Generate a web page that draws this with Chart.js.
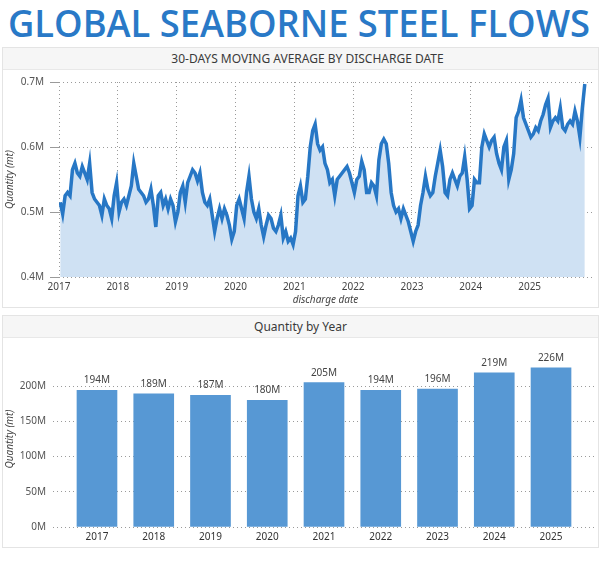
<!DOCTYPE html>
<html>
<head>
<meta charset="utf-8">
<title>Global Seaborne Steel Flows</title>
<script src="https://cdn.jsdelivr.net/npm/chart.js@4/dist/chart.umd.min.js"></script>
<style>
  body { margin: 0; background: #fff; width: 612px; height: 572px; overflow: hidden; font-family: "Noto Sans", sans-serif; }
  #title { position: absolute; left: 8px; top: 3px; margin: 0; white-space: nowrap; font: 600 38px/1 "Open Sans", sans-serif; color: #2979c7; transform-origin: 0 0; }
  .panel { position: absolute; left: 2px; width: 595px; border: 1px solid #e4e4e4; background: #fff; }
  .head { height: 21px; background: #f6f6f6; border-bottom: 1px solid #e8e8e8; text-align: center; font-size: 12px; line-height: 21px; color: #3a3a3a; }
  .box { position: relative; width: 595px; }
  #p1 { top: 47px; }
  #p1 .head { padding-left: 14px; width: 581px; }
  #p1 .box { height: 237px; }
  #p2 { top: 315px; }
  #p2 .box { height: 209px; }
</style>
</head>
<body>
<h1 id="title">GLOBAL SEABORNE STEEL FLOWS</h1>

<div class="panel" id="p1">
  <div class="head">30-DAYS MOVING AVERAGE BY DISCHARGE DATE</div>
  <div class="box"><canvas id="movingAvgChart"></canvas></div>
</div>

<div class="panel" id="p2">
  <div class="head">Quantity by Year</div>
  <div class="box"><canvas id="byYearChart"></canvas></div>
</div>

<script>
// años y valores (millones de toneladas)
const years = ['2017', '2018', '2019', '2020', '2021', '2022', '2023', '2024', '2025'];

// media móvil 30 días, dos valores por mes (M t)
const ma2017 = [0.515, 0.497, 0.525, 0.53, 0.525, 0.565, 0.575, 0.56, 0.555, 0.57, 0.56, 0.55,
                0.575, 0.53, 0.52, 0.515, 0.51, 0.495, 0.52, 0.51, 0.505, 0.49, 0.525, 0.545];
const ma2018 = [0.50, 0.515, 0.52, 0.51, 0.525, 0.54, 0.575, 0.555, 0.535, 0.53, 0.525, 0.515,
                0.52, 0.535, 0.51, 0.477, 0.525, 0.53, 0.51, 0.52, 0.505, 0.52, 0.51, 0.485];
const ma2019 = [0.50, 0.53, 0.54, 0.515, 0.545, 0.555, 0.565, 0.56, 0.548, 0.56, 0.53, 0.515,
                0.51, 0.52, 0.495, 0.47, 0.49, 0.505, 0.49, 0.505, 0.495, 0.48, 0.458, 0.47];
const ma2020 = [0.51, 0.52, 0.505, 0.49, 0.53, 0.555, 0.52, 0.50, 0.49, 0.505, 0.48, 0.462,
                0.48, 0.495, 0.49, 0.475, 0.47, 0.48, 0.495, 0.46, 0.47, 0.455, 0.46, 0.45];
const ma2021 = [0.47, 0.525, 0.54, 0.515, 0.52, 0.555, 0.60, 0.625, 0.635, 0.605, 0.595, 0.60,
                0.575, 0.565, 0.545, 0.55, 0.525, 0.55, 0.555, 0.56, 0.565, 0.57, 0.56, 0.545];
const ma2022 = [0.53, 0.55, 0.555, 0.578, 0.565, 0.53, 0.53, 0.545, 0.54, 0.525, 0.58, 0.605,
                0.612, 0.605, 0.575, 0.53, 0.51, 0.50, 0.505, 0.49, 0.505, 0.495, 0.485, 0.47];
const ma2023 = [0.455, 0.47, 0.48, 0.51, 0.53, 0.555, 0.535, 0.525, 0.53, 0.555, 0.575, 0.595,
                0.57, 0.53, 0.525, 0.55, 0.56, 0.55, 0.54, 0.555, 0.56, 0.585, 0.55, 0.505];
const ma2024 = [0.51, 0.55, 0.545, 0.545, 0.60, 0.62, 0.61, 0.60, 0.61, 0.615, 0.59, 0.575,
                0.565, 0.60, 0.61, 0.55, 0.565, 0.59, 0.645, 0.655, 0.672, 0.645, 0.635, 0.625];
const ma2025 = [0.615, 0.62, 0.63, 0.625, 0.64, 0.65, 0.665, 0.675, 0.63, 0.64, 0.645, 0.64,
                0.66, 0.63, 0.625, 0.635, 0.64, 0.635, 0.655, 0.64, 0.615, 0.66, 0.697];

const movingAvgTicks = [0.4, 0.5, 0.6, 0.7];

// totales anuales (M t)
const yearlyTotals = [194, 189, 187, 180, 205, 194, 196, 219, 226];
const yearlyTicks = [0, 50, 100, 150, 200];

const lineBlue = '#2777c5';
const areaBlue = '#cfe1f3';
const barBlue = '#5798d4';
const gridGrey = '#9a9a9a';

Chart.defaults.font.family = '"Noto Sans", sans-serif';
Chart.defaults.font.size = 10;
Chart.defaults.color = '#555';
Chart.defaults.animation = false;

// ajustar el título al ancho del original
const title = document.getElementById('title');
title.style.transform = 'scaleX(' + (582 / title.getBoundingClientRect().width) + ')';

// puntos de la media móvil en años decimales
const movingAvgPoints = [];
[ma2017, ma2018, ma2019, ma2020, ma2021, ma2022, ma2023, ma2024, ma2025].forEach((vals, k) => {
  vals.forEach((v, i) => {
    movingAvgPoints.push({ x: Number(years[k]) + (i + 0.5) / 24, y: v });
  });
});

// Gráfica de área - media móvil
new Chart(document.getElementById('movingAvgChart'), {
  type: 'line',
  data: {
    datasets: [{
      data: movingAvgPoints,
      borderColor: lineBlue,
      backgroundColor: areaBlue,
      borderWidth: 3.5,
      pointRadius: 0,
      fill: 'start',
      tension: 0,
    }],
  },
  options: {
    responsive: true,
    maintainAspectRatio: false,
    layout: { padding: { top: 11, right: 6, left: 0, bottom: 0 } },
    plugins: { legend: { display: false }, tooltip: { enabled: false } },
    scales: {
      x: {
        type: 'linear',
        min: 2017,
        max: 2026.06,
        afterBuildTicks: s => { s.ticks = years.map(y => ({ value: Number(y) })); },
        afterFit: s => { s.height = 30; },
        ticks: { padding: 4, color: '#444', callback: v => String(v) },
        grid: { color: gridGrey, drawTicks: false },
        border: { display: false, dash: [1, 3] },
        title: { display: true, text: 'discharge date', font: { style: 'italic', size: 10 }, color: '#444', padding: { top: 0, bottom: 1 } },
      },
      y: {
        min: 0.4,
        max: 0.7,
        afterBuildTicks: s => { s.ticks = movingAvgTicks.map(v => ({ value: v })); },
        afterFit: s => { s.width = 56; },
        ticks: { padding: 6, color: '#555', callback: v => v.toFixed(1) + 'M' },
        grid: { color: gridGrey, tickLength: 9 },
        border: { display: false, dash: [1, 3] },
        title: { display: true, text: 'Quantity (mt)', font: { style: 'italic', size: 10 }, color: '#444', padding: { top: 1, bottom: 0 } },
      },
    },
  },
});

// etiquetas de valor encima de cada barra
const barValueLabels = {
  id: 'barValueLabels',
  afterDatasetsDraw(chart) {
    const ctx = chart.ctx;
    ctx.save();
    ctx.font = '10px "Noto Sans", sans-serif';
    ctx.fillStyle = '#444';
    ctx.textAlign = 'center';
    ctx.textBaseline = 'middle';
    chart.getDatasetMeta(0).data.forEach((bar, i) => {
      ctx.fillText(yearlyTotals[i] + 'M', bar.x, bar.y - 10);
    });
    ctx.restore();
  }
};

// Gráfica de barras - cantidad por año
new Chart(document.getElementById('byYearChart'), {
  type: 'bar',
  data: {
    datasets: [{
      data: yearlyTotals.map((v, i) => ({ x: i, y: v })),
      backgroundColor: barBlue,
      barThickness: 40,
    }],
  },
  options: {
    responsive: true,
    maintainAspectRatio: false,
    layout: { padding: { top: 9, right: 3, left: 0, bottom: 0 } },
    plugins: { legend: { display: false }, tooltip: { enabled: false } },
    scales: {
      x: {
        type: 'linear',
        offset: false,
        min: -0.775,
        max: 8.775,
        afterBuildTicks: s => { s.ticks = years.map((y, i) => ({ value: i })); },
        afterFit: s => { s.height = 20; },
        ticks: { padding: 4, color: '#333', callback: v => years[v] },
        grid: { display: false, drawTicks: false },
        border: { display: false },
      },
      y: {
        min: 0,
        max: 250,
        afterBuildTicks: s => { s.ticks = yearlyTicks.map(v => ({ value: v })); },
        afterFit: s => { s.width = 50; },
        ticks: { padding: 7, color: '#555', callback: v => v + 'M' },
        grid: { color: gridGrey, drawTicks: false },
        border: { display: false, dash: [1, 3] },
        title: { display: true, text: 'Quantity (mt)', font: { style: 'italic', size: 10 }, color: '#444', padding: { top: 1, bottom: 0 } },
      },
    },
  },
  plugins: [barValueLabels],
});
</script>
</body>
</html>
